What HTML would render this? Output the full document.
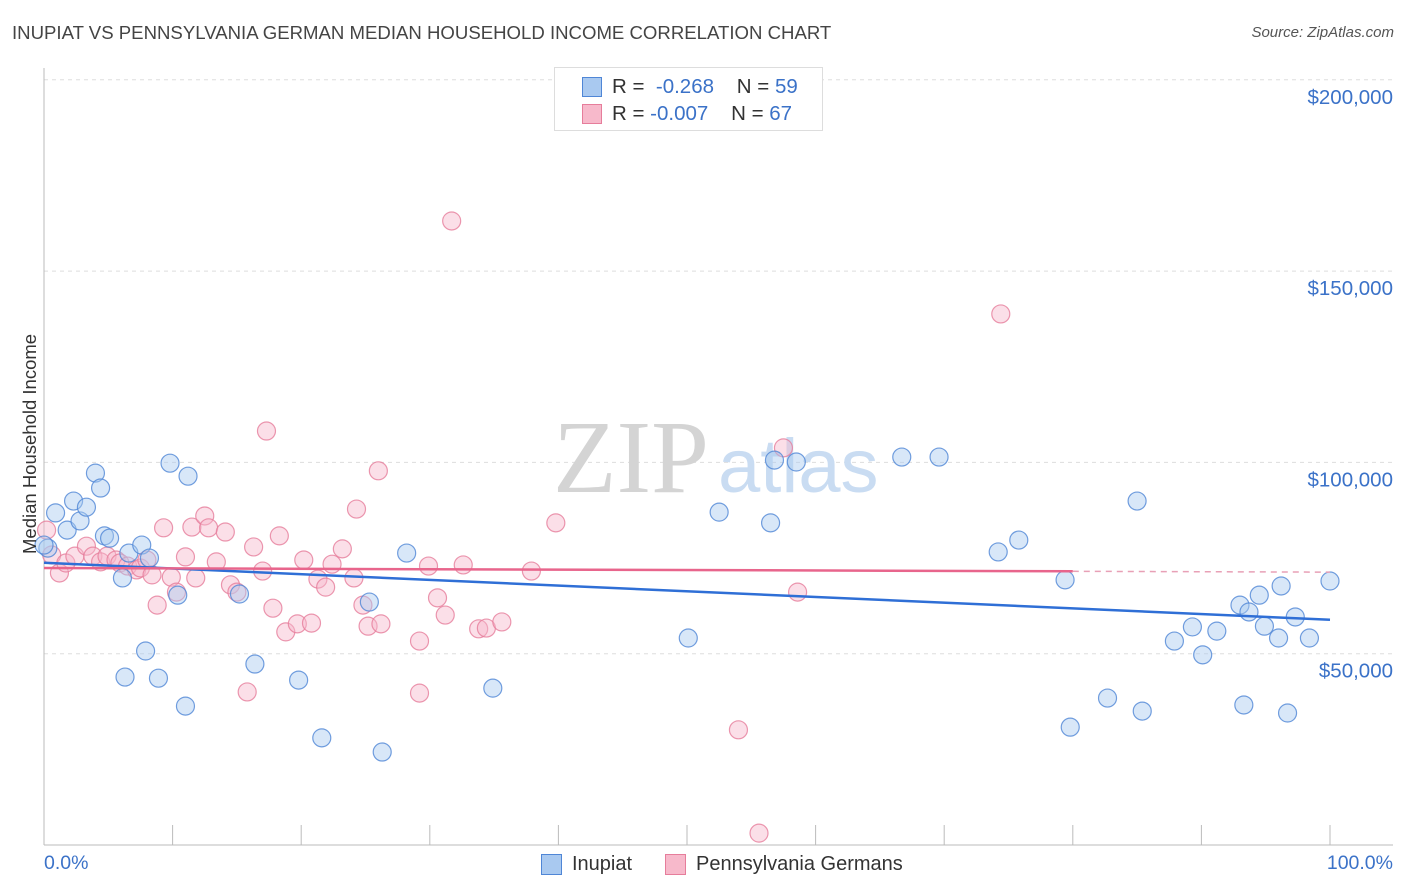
<!DOCTYPE html>
<html><head><meta charset="utf-8"><style>
body{margin:0;background:#fff;font-family:"Liberation Sans",sans-serif;}
#wrap{position:relative;width:1406px;height:892px;overflow:hidden;}
.t{position:absolute;white-space:nowrap;}
</style></head><body>
<div id="wrap">
<div class="t" style="left:12px;top:22px;font-size:18.6px;color:#444;">INUPIAT VS PENNSYLVANIA GERMAN MEDIAN HOUSEHOLD INCOME CORRELATION CHART</div>
<div class="t" style="right:12px;top:24px;font-size:15px;color:#555;font-style:italic;">Source: ZipAtlas.com</div>
<svg id="svg" width="1406" height="892" style="position:absolute;left:0;top:0"></svg>
</div>
<script>
const blueX=[0.3,0.9,1.8,2.3,2.8,3.3,4.0,4.4,4.7,5.1,6.1,6.3,6.6,7.6,7.9,8.2,8.9,9.8,10.4,11.0,11.2,15.2,16.4,19.8,21.6,25.3,26.3,28.2,34.9,50.1,52.5,56.5,56.8,58.5,66.7,69.6,74.2,75.8,79.4,79.8,82.7,85.0,85.4,87.9,89.3,90.1,91.2,93.0,93.3,93.7,94.5,94.9,96.0,96.2,96.7,97.3,98.4,100,0];
const blueY=[77.6,86.8,82.3,89.9,84.7,88.3,97.2,93.3,80.8,80.2,69.8,43.9,76.3,78.4,50.7,75.0,43.6,99.8,65.3,36.3,96.4,65.6,47.3,43.1,28.0,63.5,24.3,76.3,41.0,54.1,87.0,84.2,100.6,100.1,101.4,101.4,76.6,79.7,69.3,30.8,38.4,89.9,35.0,53.3,57.0,49.7,55.9,62.7,36.6,60.9,65.3,57.2,54.1,67.7,34.5,59.6,54.1,69.0,78.4];
const pinkX=[0.2,0.6,1.2,1.7,2.4,3.3,3.8,4.4,4.9,5.6,5.9,6.5,7.2,7.5,8.0,8.4,8.8,9.3,9.9,10.3,11.0,11.5,11.8,12.5,12.8,13.4,14.1,14.5,15.0,15.8,16.3,17.0,17.3,17.8,18.3,18.8,19.7,20.2,20.8,21.3,21.9,22.4,23.2,24.1,24.3,24.8,25.2,26.0,26.2,29.2,29.2,29.9,30.6,31.2,31.7,32.6,33.8,34.4,35.6,37.9,39.8,54.0,57.5,58.6,74.4,55.6];
const pinkY=[82.3,75.8,71.1,73.7,75.5,78.1,75.5,74.0,75.5,74.5,73.7,72.9,71.9,72.4,74.5,70.6,62.7,82.9,70.0,66.1,75.3,83.1,69.8,86.0,82.9,74.0,81.8,68.0,66.1,40.0,77.9,71.6,108.2,61.9,80.8,55.7,57.8,74.5,58.0,69.5,67.4,73.4,77.4,69.8,87.8,62.7,57.2,97.8,57.8,39.7,53.3,72.9,64.6,60.1,163.1,73.2,56.5,56.7,58.3,71.6,84.2,30.1,103.8,66.1,138.8,3.1];
const yTicks=[50,100,150,200];
const yTickLabels=["$50,000","$100,000","$150,000","$200,000"];
const xTicks=[0,10,20,30,40,50,60,70,80,90,100];

const NS="http://www.w3.org/2000/svg";
const svg=document.getElementById('svg');
const X=v=>44+v*12.86;
const Y=v=>845-v*3.826;
function mk(tag,attrs,parent){const e=document.createElementNS(NS,tag);for(const k in attrs)e.setAttribute(k,attrs[k]);(parent||svg).appendChild(e);return e;}

yTicks.forEach((t,i)=>{
  const g=mk('line',{x1:44,x2:1393,y1:Y(t),y2:Y(t),stroke:'#ddd','stroke-dasharray':'4,4'});
  
  
  const tx=mk('text',{x:1393,y:Y(t)+24,'text-anchor':'end','font-size':20.5,fill:'#3b72c8','font-family':'Liberation Sans, sans-serif'});
  tx.textContent=yTickLabels[i];
  
  
});
const ax=mk('line',{x1:44,x2:44,y1:68,y2:845,stroke:'#bbb'});


const bx=mk('line',{x1:44,x2:1393,y1:845,y2:845,stroke:'#bbb'});


xTicks.forEach(t=>{
  const l=mk('line',{x1:X(t),x2:X(t),y1:825,y2:845,stroke:'#bbb'});
  
  
});
const wm=mk('text',{x:553,y:492,'font-size':104,fill:'#d4d4d4','font-family':'Liberation Serif, serif'});
wm.textContent='ZIP';


const wm2=mk('text',{x:718,y:492,'font-size':76,fill:'#c9dcf2','font-family':'Liberation Sans, sans-serif'});
wm2.textContent='atlas';



function dots(xs,ys,fill,stroke,name){
  xs.forEach((x,i)=>{
    const c=mk('circle',{cx:X(x),cy:Y(ys[i]),r:9,fill:fill,'fill-opacity':0.45,stroke:stroke,'stroke-width':1.2,'stroke-opacity':0.8});
    
    
  });
}
function reg(xs,ys){const n=xs.length;let mx=0,my=0;xs.forEach((x,i)=>{mx+=x;my+=ys[i]});mx/=n;my/=n;let sxy=0,sxx=0;xs.forEach((x,i)=>{sxy+=(x-mx)*(ys[i]-my);sxx+=(x-mx)*(x-mx)});const b=sxy/sxx;return x=>my+b*(x-mx);}
dots(pinkX,pinkY,'#f7b9cb','#e67d9b','pink-point');
dots(blueX,blueY,'#a9c9f0','#4f86d6','blue-point');
const fb=reg(blueX,blueY), fp=reg(pinkX,pinkY);
const bl=mk('line',{x1:X(0),y1:Y(fb(0)),x2:X(100),y2:Y(fb(100)),stroke:'#2f6fd6','stroke-width':2.5});


const pl=mk('line',{x1:X(0),y1:Y(fp(0)),x2:X(80),y2:Y(fp(80)),stroke:'#e8658c','stroke-width':2.5});


const pd=mk('line',{x1:X(80),y1:Y(fp(80)),x2:X(100),y2:Y(fp(100)),stroke:'#e8a0b6','stroke-width':1.5,'stroke-dasharray':'6,5'});


</script>
<div class="t" style="left:-70px;top:443px;transform:rotate(-90deg);font-size:18.5px;color:#333;width:200px;text-align:center;">Median Household Income</div>
<div class="t" style="left:44px;top:852px;font-size:19.5px;color:#3b72c8;">0.0%</div>
<div class="t" style="right:13px;top:852px;font-size:19.5px;color:#3b72c8;">100.0%</div>
<div style="position:absolute;left:554px;top:67px;width:267px;height:62px;border:1px solid #ddd;background:#fff;font-size:20.5px;color:#333;">
  <div style="position:absolute;left:27px;top:9px;width:18px;height:18px;background:#a9c9f0;border:1px solid #4f86d6;"></div>
  <div class="t" style="left:57px;top:7px;">R = &nbsp;<span style="color:#3b72c8">-0.268</span>&nbsp;&nbsp;&nbsp; N = <span style="color:#3b72c8">59</span></div>
  <div style="position:absolute;left:27px;top:36px;width:18px;height:18px;background:#f7b9cb;border:1px solid #e67d9b;"></div>
  <div class="t" style="left:57px;top:34px;">R = <span style="color:#3b72c8">-0.007</span>&nbsp;&nbsp;&nbsp; N = <span style="color:#3b72c8">67</span></div>
</div>
<div style="position:absolute;left:541px;top:854px;font-size:20px;color:#333;">
  <div style="position:absolute;left:0;top:0;width:19px;height:19px;background:#a9c9f0;border:1px solid #4f86d6;"></div>
  <div class="t" style="left:31px;top:-1px;">Inupiat</div>
</div>
<div style="position:absolute;left:665px;top:854px;font-size:20px;color:#333;">
  <div style="position:absolute;left:0;top:0;width:19px;height:19px;background:#f7b9cb;border:1px solid #e67d9b;"></div>
  <div class="t" style="left:31px;top:-1px;">Pennsylvania Germans</div>
</div>
</body></html>
